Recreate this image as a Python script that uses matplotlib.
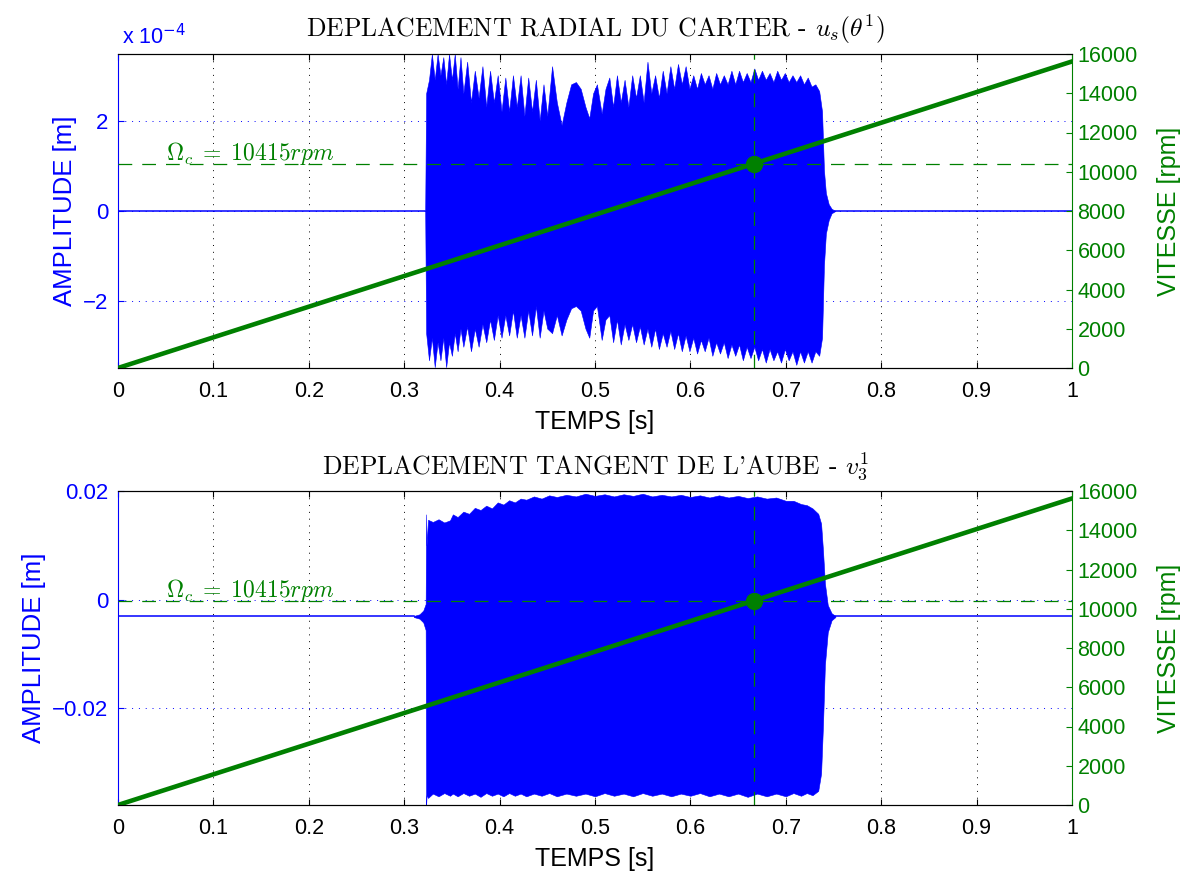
import matplotlib.pyplot as plt

plt.rcParams['font.family'] = ['Liberation Sans', 'DejaVu Sans']
plt.rcParams['mathtext.fontset'] = 'cm'

BLUE = '#0000ff'
GREEN = '#008000'

# vitesse de rotation (rampe lineaire)
t_ramp = [0.0, 1.0]
rpm_ramp = [0.0, 15620.0]
t_crit = 0.6667
rpm_crit = 10415

xticks = [0, 0.1, 0.2, 0.3, 0.4, 0.5, 0.6, 0.7, 0.8, 0.9, 1]
xticklabels = ['0', '0.1', '0.2', '0.3', '0.4', '0.5', '0.6', '0.7', '0.8', '0.9', '1']
rpm_ticks = [0, 2000, 4000, 6000, 8000, 10000, 12000, 14000, 16000]

# carter u_s : enveloppe haute / basse (x 1e-4 m)
t_us = [0.322, 0.323, 0.326, 0.329, 0.332, 0.335, 0.338, 0.341, 0.344, 0.347,
        0.350, 0.353, 0.356, 0.359, 0.362, 0.366, 0.370, 0.374, 0.378, 0.382,
        0.386, 0.390, 0.394, 0.398, 0.402, 0.406, 0.410, 0.414, 0.418, 0.422,
        0.426, 0.430, 0.434, 0.438, 0.442, 0.446, 0.450, 0.455, 0.460, 0.465,
        0.470, 0.475, 0.480, 0.485, 0.490, 0.494, 0.498, 0.502, 0.507, 0.511,
        0.515, 0.519, 0.523, 0.527, 0.531, 0.535, 0.539, 0.543, 0.547, 0.551,
        0.555, 0.559, 0.563, 0.567, 0.571, 0.575, 0.579, 0.583, 0.587, 0.591,
        0.595, 0.599, 0.603, 0.607, 0.611, 0.615, 0.619, 0.623, 0.627, 0.631,
        0.635, 0.639, 0.643, 0.647, 0.651, 0.655, 0.659, 0.663, 0.667, 0.671,
        0.675, 0.679, 0.683, 0.687, 0.691, 0.695, 0.699, 0.703, 0.707, 0.711,
        0.715, 0.719, 0.723, 0.727, 0.731, 0.735, 0.738, 0.740, 0.742, 0.745,
        0.748, 0.752]
us_up = [0.0, 2.6, 2.9, 3.47, 2.9, 3.47, 3.0, 3.4, 2.8, 3.47,
         2.9, 3.47, 2.7, 3.4, 2.6, 3.3, 2.4, 3.1, 2.5, 3.2,
         2.3, 3.1, 2.4, 3.0, 2.2, 2.95, 2.2, 3.0, 2.3, 3.0,
         2.1, 2.95, 2.2, 2.9, 2.0, 2.8, 2.1, 3.2, 2.4, 1.9,
         2.4, 2.8, 2.85, 2.7, 2.3, 2.05, 2.6, 2.8, 2.15, 2.7,
         2.95, 2.3, 3.0, 2.4, 2.9, 2.3, 3.0, 2.5, 3.0, 2.4,
         3.3, 2.6, 3.0, 2.5, 3.1, 2.6, 3.2, 2.7, 3.25, 2.8,
         3.2, 2.7, 3.0, 2.7, 3.05, 2.8, 3.0, 2.7, 3.05, 2.8,
         3.0, 2.8, 3.1, 2.8, 3.1, 2.85, 3.05, 2.85, 3.15, 2.9,
         3.1, 2.9, 3.05, 2.85, 3.1, 2.9, 3.05, 2.85, 3.0, 2.85,
         3.0, 2.8, 2.95, 2.75, 2.8, 2.65, 2.2, 0.9, 0.4, 0.15,
         0.05, 0.0]
us_lo = [0.0, -2.7, -3.3, -2.8, -3.45, -2.9, -3.3, -2.8, -3.45, -2.9,
         -3.2, -2.7, -3.1, -2.6, -3.0, -2.55, -3.1, -2.6, -3.0, -2.5,
         -2.9, -2.4, -2.85, -2.3, -2.8, -2.3, -2.75, -2.2, -2.8, -2.3,
         -2.8, -2.2, -2.75, -2.1, -2.8, -2.2, -2.6, -2.7, -2.3, -2.75,
         -2.4, -2.15, -2.1, -2.2, -2.6, -2.8, -2.2, -2.1, -2.85, -2.4,
         -2.3, -2.9, -2.4, -2.95, -2.5, -2.85, -2.5, -2.9, -2.55, -2.95,
         -2.6, -3.0, -2.6, -3.05, -2.7, -3.0, -2.65, -3.05, -2.7, -3.1,
         -2.75, -3.1, -2.8, -3.15, -2.85, -3.1, -2.8, -3.2, -2.9, -3.15,
         -2.9, -3.25, -2.95, -3.2, -2.95, -3.3, -3.0, -3.25, -3.0, -3.3,
         -3.05, -3.35, -3.05, -3.3, -3.1, -3.35, -3.05, -3.3, -3.1, -3.4,
         -3.1, -3.35, -3.1, -3.35, -3.1, -3.2, -2.8, -1.2, -0.5, -0.2,
         -0.05, 0.0]
us_rest = 0.0

# aube v_3 : enveloppe haute / basse (m)
t_v3 = [0.310, 0.316, 0.320, 0.3225, 0.323, 0.3235, 0.325, 0.330, 0.336, 0.342,
        0.348, 0.351, 0.356, 0.362, 0.368, 0.374, 0.380, 0.386, 0.392, 0.398,
        0.404, 0.410, 0.416, 0.422, 0.428, 0.436, 0.444, 0.452, 0.460, 0.470,
        0.480, 0.490, 0.500, 0.510, 0.520, 0.530, 0.540, 0.550, 0.560, 0.570,
        0.580, 0.590, 0.600, 0.610, 0.620, 0.630, 0.640, 0.650, 0.660, 0.670,
        0.680, 0.690, 0.700, 0.708, 0.716, 0.722, 0.728, 0.734, 0.737, 0.739,
        0.741, 0.744, 0.748, 0.752]
v3_up = [-0.0030, -0.0027, -0.0020, -0.0008, 0.0157, 0.0100, 0.0147, 0.0143, 0.0148, 0.0142,
         0.0146, 0.0157, 0.0152, 0.0162, 0.0158, 0.0169, 0.0165, 0.0173, 0.0168, 0.0179,
         0.0175, 0.0183, 0.0179, 0.0186, 0.0184, 0.0190, 0.0186, 0.0192, 0.0189, 0.0193,
         0.0190, 0.0195, 0.0191, 0.0194, 0.0190, 0.0194, 0.0191, 0.0195, 0.0190, 0.0193,
         0.0190, 0.0193, 0.0189, 0.0192, 0.0188, 0.0192, 0.0188, 0.0191, 0.0187, 0.0190,
         0.0186, 0.0188, 0.0182, 0.0182, 0.0176, 0.0174, 0.0168, 0.0158, 0.0140, 0.0090,
         0.0030, -0.0010, -0.0025, -0.0030]
v3_lo = [-0.0032, -0.0035, -0.0042, -0.0056, -0.0378, -0.0360, -0.0365, -0.0357, -0.0362, -0.0356,
         -0.0361, -0.0357, -0.0362, -0.0356, -0.0361, -0.0357, -0.0363, -0.0356, -0.0361, -0.0357,
         -0.0362, -0.0356, -0.0361, -0.0357, -0.0362, -0.0357, -0.0361, -0.0356, -0.0362, -0.0357,
         -0.0361, -0.0357, -0.0362, -0.0356, -0.0361, -0.0357, -0.0362, -0.0356, -0.0361, -0.0357,
         -0.0362, -0.0357, -0.0361, -0.0356, -0.0362, -0.0357, -0.0362, -0.0357, -0.0363, -0.0357,
         -0.0362, -0.0357, -0.0362, -0.0356, -0.0361, -0.0356, -0.0360, -0.0352, -0.0320, -0.0230,
         -0.0120, -0.0060, -0.0038, -0.0032]
v3_rest = -0.0031

fig = plt.figure(figsize=(11.86, 8.73), dpi=100)
W = 1186.0
H = 873.0


def panel(rect, t, up, lo, rest, ylim, yticks, yticklabels, title):
    ax = fig.add_axes(rect)
    ax.fill_between(t, lo, up, color=BLUE, lw=0.4)
    ax.plot([0, t[0]], [rest, rest], color=BLUE, lw=1.1)
    ax.plot([t[-1], 1], [rest, rest], color=BLUE, lw=1.1)
    ax.set_xlim(0, 1)
    ax.set_ylim(*ylim)
    ax.set_xticks(xticks)
    ax.set_xticklabels(xticklabels)
    ax.set_yticks(yticks)
    ax.set_yticklabels(yticklabels)
    ax.set_axisbelow(True)
    ax.xaxis.grid(True, color='k', ls=(0, (1, 6)), lw=0.7)
    ax.yaxis.grid(True, color=BLUE, ls=(0, (1, 6)), lw=0.7)
    ax.tick_params(axis='x', direction='in', top=True, length=4, labelsize=15.5, pad=9)
    ax.tick_params(axis='y', direction='in', length=4, colors=BLUE, labelsize=16, pad=7)
    ax.spines['left'].set_color(BLUE)
    ax.spines['right'].set_visible(False)
    ax.set_xlabel('TEMPS [s]', fontsize=18, labelpad=6)
    ax.set_ylabel('AMPLITUDE [m]', color=BLUE, fontsize=18.5, labelpad=4)
    ax.set_title(title, fontfamily='cmr10', fontsize=18.5, pad=12)

    ax2 = ax.twinx()
    ax2.plot(t_ramp, rpm_ramp, color=GREEN, lw=3.3)
    ax2.axhline(rpm_crit, color=GREEN, lw=0.9, ls=(0, (11, 8)))
    ax2.axvline(t_crit, color=GREEN, lw=0.9, ls=(0, (11, 8)))
    ax2.plot([t_crit], [rpm_crit], 'o', color=GREEN, ms=11.5)
    ax2.text(0.05, rpm_crit + 200, r'$\Omega_c\;=\;10415rpm$', color=GREEN, fontsize=17)
    ax2.set_ylim(0, 16000)
    ax2.set_yticks(rpm_ticks)
    ax2.tick_params(axis='y', direction='in', length=4, colors=GREEN, labelsize=15.5, pad=4)
    ax2.spines['right'].set_color(GREEN)
    ax2.spines['left'].set_visible(False)
    ax2.set_ylabel('VITESSE [rpm]', color=GREEN, fontsize=18, labelpad=14)
    return ax


ax_top = panel([118 / W, 1 - 368 / H, 954 / W, 314 / H], t_us, us_up, us_lo, us_rest,
               (-3.47, 3.47), [-2, 0, 2], ['\u22122', '0', '2'],
               r'DEPLACEMENT RADIAL DU CARTER - $u_s(\theta^1)$')
ax_top.text(0.004, 1.03, r'x 10$^{-4}$', transform=ax_top.transAxes, color=BLUE,
            fontsize=15.5, math_fontfamily='dejavusans', va='baseline')

panel([118 / W, 1 - 805 / H, 954 / W, 314 / H], t_v3, v3_up, v3_lo, v3_rest,
      (-0.0378, 0.02), [-0.02, 0, 0.02], ['\u22120.02', '0', '0.02'],
      r"DEPLACEMENT TANGENT DE L'AUBE - $v_3^1$")

fig.savefig('out.png', dpi=100)
